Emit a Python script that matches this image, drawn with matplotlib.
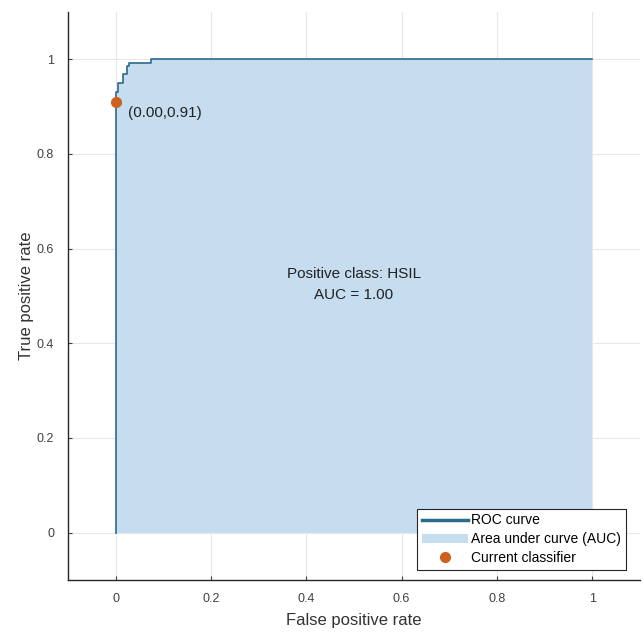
import matplotlib
matplotlib.use("Agg")
import matplotlib.pyplot as plt
from matplotlib.lines import Line2D
from matplotlib.patches import Patch
import numpy as np

plt.rcParams['font.family'] = ['Liberation Sans', 'DejaVu Sans']

fpr = [0.0, 0.0, 0.0, 0.004, 0.004, 0.016, 0.016, 0.023, 0.023, 0.027, 0.027, 0.075, 0.075, 1.0]
tpr = [0.0, 0.91, 0.93, 0.93, 0.95, 0.95, 0.97, 0.97, 0.985, 0.985, 0.992, 0.992, 1.0, 1.0]
op_point = (0.0, 0.91)
ticks = [0, 0.2, 0.4, 0.6, 0.8, 1]
tick_labels = ["0", "0.2", "0.4", "0.6", "0.8", "1"]

line_color = "#2b6a8c"
fill_color = "#c6dcef"
dot_color = "#d0601f"

fig = plt.figure(figsize=(6.43, 6.33), dpi=100)
ax = fig.add_axes([68/643, 53/633, (640-68)/643, (580-12)/633])

ax.fill_between(fpr, tpr, 0, color=fill_color, linewidth=0, zorder=1)
ax.plot(fpr, tpr, color=line_color, linewidth=1.2, zorder=2)
ax.plot([op_point[0]], [op_point[1]], "o", color=dot_color, markersize=7, zorder=3)
ax.text(op_point[0] + 0.025, op_point[1] - 0.023, "(%.2f,%.2f)" % op_point, fontsize=11, color="#222222", va="center", ha="left")
ax.text(0.5, 0.524, "Positive class: HSIL\nAUC = 1.00", ha="center", va="center", fontsize=11, color="#222222", linespacing=1.6)

ax.set_xlim(-0.1, 1.1)
ax.set_ylim(-0.1, 1.1)
ax.set_xticks(ticks)
ax.set_xticklabels(tick_labels)
ax.set_yticks(ticks)
ax.set_yticklabels(tick_labels)
ax.grid(True, color="#e8e8e8", linewidth=0.8)
ax.set_axisbelow(True)
for s in ["top", "right"]:
    ax.spines[s].set_visible(False)
for s in ["left", "bottom"]:
    ax.spines[s].set_color("#262626")
    ax.spines[s].set_linewidth(1.0)
ax.tick_params(labelsize=9, colors="#404040", direction="in", length=3)
ax.tick_params(axis="x", pad=9)
ax.tick_params(axis="y", pad=10)
ax.set_xlabel("False positive rate", fontsize=12, color="#333333", labelpad=6)
ax.set_ylabel("True positive rate", fontsize=12, color="#333333", labelpad=2)

handles = [Line2D([0], [0], color=line_color, linewidth=2.5),
           Patch(facecolor=fill_color, edgecolor="none"),
           Line2D([0], [0], marker="o", color=dot_color, linestyle="none", markersize=7)]
labels = ["ROC curve", "Area under curve (AUC)", "Current classifier"]
leg = ax.legend(handles, labels, loc="lower right", fontsize=10,
                fancybox=False, framealpha=1, edgecolor="#262626", borderaxespad=0,
                borderpad=0.35, handlelength=3.3, labelspacing=0.35, handletextpad=0.25,
                bbox_to_anchor=(1 - 14/572, 10/568))
leg.get_frame().set_linewidth(0.8)

fig.savefig("out.png", dpi=100)
